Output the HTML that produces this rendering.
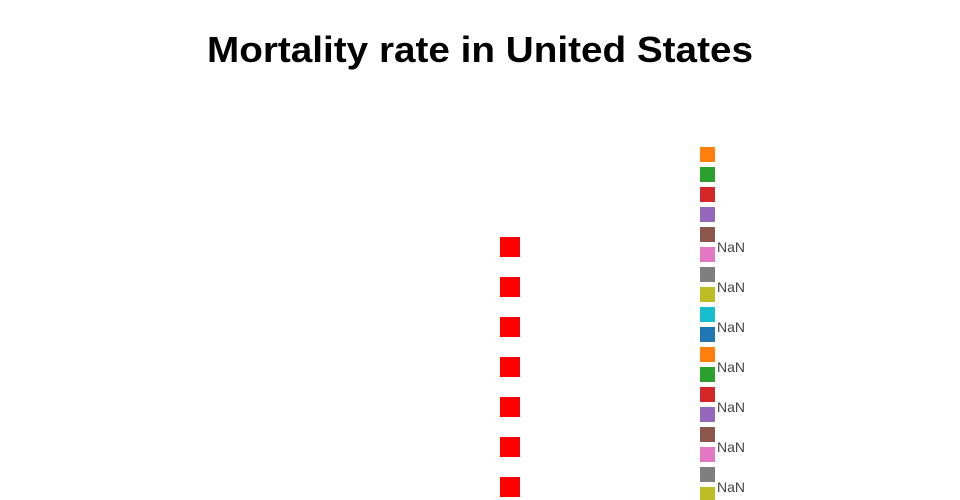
<!DOCTYPE html>
<html><head><meta charset="utf-8">
<style>
html,body{margin:0;padding:0;background:#fff;}
svg{display:block;}
</style></head>
<body>
<svg id="chart" width="960" height="500" viewBox="0 0 960 500" xmlns="http://www.w3.org/2000/svg">
  <text x="480" y="62" text-anchor="middle" font-family="Liberation Sans, sans-serif" font-weight="bold" font-size="36" fill="#000" textLength="546" lengthAdjust="spacingAndGlyphs">Mortality rate in United States</text>
  <g id="marks"></g>
  <g id="legend"></g>
</svg>
<script>
const categories = ["r0","r1","r2","r3","r4","r5","r6"];
const values = [NaN,NaN,NaN,NaN,NaN,NaN,NaN];
const legendColors = ["#ff7f0e","#2ca02c","#d62728","#9467bd","#8c564b","#e377c2","#7f7f7f","#bcbd22","#17becf","#1f77b4","#ff7f0e","#2ca02c","#d62728","#9467bd","#8c564b","#e377c2","#7f7f7f","#bcbd22"];

const NS = "http://www.w3.org/2000/svg";
const rowY = i => 247 + i * 40;       // center of row i
const legY = i => 147 + i * 20;       // top of legend swatch i
const marks = document.getElementById("marks");
const legend = document.getElementById("legend");

categories.forEach((c, i) => {
  const r = document.createElementNS(NS, "rect");
  r.setAttribute("x", 500);
  r.setAttribute("y", rowY(i) - 10);
  r.setAttribute("width", 20);
  r.setAttribute("height", 20);
  r.setAttribute("fill", "#ff0000");
  
  
  marks.appendChild(r);

  const t = document.createElementNS(NS, "text");
  t.setAttribute("x", 717);
  t.setAttribute("y", rowY(i) + 5);
  t.setAttribute("font-family", "Liberation Sans, sans-serif");
  t.setAttribute("font-size", "14");
  t.setAttribute("fill", "#444");
  t.textContent = String(values[i]);
  
  
  marks.appendChild(t);
});

legendColors.forEach((col, i) => {
  const r = document.createElementNS(NS, "rect");
  r.setAttribute("x", 700);
  r.setAttribute("y", legY(i));
  r.setAttribute("width", 15);
  r.setAttribute("height", 15);
  r.setAttribute("fill", col);
  
  
  legend.appendChild(r);
});
</script>
</body></html>
